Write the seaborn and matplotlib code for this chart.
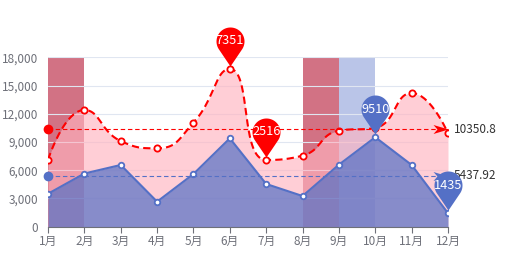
import numpy as np
import pandas as pd
import matplotlib
matplotlib.use("Agg")
import matplotlib.pyplot as plt
import seaborn as sns
from matplotlib.path import Path

# ---------------- data ----------------
months = ['1月', '2月', '3月', '4月', '5月', '6月', '7月', '8月', '9月', '10月', '11月', '12月']
red_vals = [7100, 12400, 9100, 8330, 11050, 16760, 7090, 7550, 10200, 10500, 14200, 9930]
blue_vals = [3500, 5650, 6560, 2660, 5600, 9390, 4540, 3260, 6590, 9510, 6560, 1435]
red_pin_labels = ['7351', '2516']      # max, min pins
blue_pin_labels = ['9510', '1435']     # max, min pins
red_bands = [(0, 1), (7, 8)]
blue_bands = [(8, 9)]
y_ticks = [0, 3000, 6000, 9000, 12000, 15000, 18000]

RED = '#ff0000'
BLUE = '#5470c6'
GRAY = '#6e7079'

sns.set_theme(style='white')
plt.rcParams['font.family'] = ['Noto Sans CJK SC', 'DejaVu Sans']

W, H, DPI = 517, 254, 100
fig = plt.figure(figsize=(W / DPI, H / DPI), dpi=DPI)
ax_l, ax_r, ax_t, ax_b = 48, 448, 57.3, 226.7
ax = fig.add_axes([ax_l / W, (H - ax_b) / H, (ax_r - ax_l) / W, (ax_b - ax_t) / H])
x = np.arange(len(months))
ax.set_xlim(0, len(months) - 1)
ax.set_ylim(0, 18000)

px_x = (ax_r - ax_l) / (len(months) - 1)
px_y = (ax_b - ax_t) / 18000.0


def smooth_curve(xs, ys, smooth=0.5, steps=40):
    X = np.asarray(xs, float) * px_x
    Y = np.asarray(ys, float) * px_y
    n = len(X)
    ox, oy = [X[0]], [Y[0]]
    cp0 = (X[0], Y[0])
    for i in range(1, n):
        cx, cy = X[i], Y[i]
        pxv, pyv = X[i - 1], Y[i - 1]
        if i == n - 1:
            cp1 = (cx, cy)
            ncp0 = None
        else:
            nx, ny = X[i + 1], Y[i + 1]
            vx, vy = nx - pxv, ny - pyv
            l0 = np.hypot(cx - pxv, cy - pyv)
            l1 = np.hypot(nx - cx, ny - cy)
            r = l1 / (l0 + l1)
            ncx = cx + vx * smooth * r
            ncy = cy + vy * smooth * r
            ncx = max(min(ncx, max(nx, cx)), min(nx, cx))
            ncy = max(min(ncy, max(ny, cy)), min(ny, cy))
            vx, vy = ncx - cx, ncy - cy
            c1x = cx - vx * l0 / l1
            c1y = cy - vy * l0 / l1
            c1x = max(min(c1x, max(pxv, cx)), min(pxv, cx))
            c1y = max(min(c1y, max(pyv, cy)), min(pyv, cy))
            vx, vy = cx - c1x, cy - c1y
            ncx = cx + vx * l1 / l0
            ncy = cy + vy * l1 / l0
            cp1 = (c1x, c1y)
            ncp0 = (ncx, ncy)
        t = np.linspace(0, 1, steps)[1:]
        bx = (1 - t) ** 3 * pxv + 3 * (1 - t) ** 2 * t * cp0[0] + 3 * (1 - t) * t ** 2 * cp1[0] + t ** 3 * cx
        by = (1 - t) ** 3 * pyv + 3 * (1 - t) ** 2 * t * cp0[1] + 3 * (1 - t) * t ** 2 * cp1[1] + t ** 3 * cy
        ox.extend(bx)
        oy.extend(by)
        cp0 = ncp0
    return np.array(ox) / px_x, np.array(oy) / px_y


# grid
ax.set_yticks(y_ticks)
ax.set_yticklabels([f'{v:,}' for v in y_ticks])
ax.yaxis.grid(True, color='#e0e6f1', lw=0.8, zorder=0.5)
ax.set_axisbelow(True)

# mark areas (behind everything)
for a, b in red_bands:
    ax.axvspan(a, b, color=(180 / 255, 20 / 255, 50 / 255), alpha=0.6, lw=0, zorder=0.1)
for a, b in blue_bands:
    ax.axvspan(a, b, color=BLUE, alpha=0.4, lw=0, zorder=0.1)

# red smooth series area
sx, sy = smooth_curve(x, red_vals)
ax.fill_between(sx, 0, sy, color=(1.0, 180 / 255, 192 / 255), alpha=0.65, lw=0, zorder=1)
# blue series area
ax.fill_between(x, 0, blue_vals, color=BLUE, alpha=0.7, lw=0, zorder=2)

# lines
ax.plot(sx, sy, color=RED, lw=1.5, dashes=(3.5, 2), zorder=5)
df_blue = pd.DataFrame({'x': x, 'v': blue_vals})
sns.lineplot(data=df_blue, x='x', y='v', ax=ax, color=BLUE, lw=1.5, zorder=5)
ax.plot(x, red_vals, ls='none', marker='o', ms=4.5, mfc='white', mec=RED, mew=1.3, zorder=6)
ax.plot(x, blue_vals, ls='none', marker='o', ms=4, mfc='white', mec=BLUE, mew=1.3, zorder=6)

# mean lines
arrow = Path([(0, 0), (-15, 4.5), (-11, 0), (-15, -4.5), (0, 0)],
             [Path.MOVETO, Path.LINETO, Path.LINETO, Path.LINETO, Path.CLOSEPOLY])
for vals, col in ((red_vals, RED), (blue_vals, BLUE)):
    m = float(np.mean(vals))
    ax.plot([0, len(months) - 1], [m, m], color=col, lw=0.8, dashes=(4, 2.5), zorder=7, clip_on=False)
    ax.plot([0], [m], marker='o', ms=6, color=col, mec=col, zorder=8, clip_on=False)
    ax.plot([len(months) - 1], [m], marker=arrow, ms=2 * 15 * 0.72, color=col, mec=col, mew=0,
            zorder=8, clip_on=False)
    ax.annotate(f'{round(m, 2):g}', (len(months) - 1, m), xytext=(4, 0), textcoords='offset points',
                ha='left', va='center', fontsize=8.5, color='#333333', zorder=9, annotation_clip=False)

# pins
r, c_off, tip = 14.0, 28.0, 3.0
d = c_off - tip
alpha = np.degrees(np.arccos(r / d))
ang = np.radians(np.linspace(-(90 - alpha), 180 + (90 - alpha), 60))
pverts = [(r * np.cos(a), c_off + r * np.sin(a)) for a in ang] + [(0, tip), (r * np.cos(ang[0]), c_off + r * np.sin(ang[0]))]
pin = Path(pverts)
maxabs = max(max(abs(vx), abs(vy)) for vx, vy in pverts)
pin_ms = 2 * maxabs * 0.72

pins = [
    (int(np.argmax(red_vals)), red_vals, red_pin_labels[0], RED),
    (int(np.argmin(red_vals)), red_vals, red_pin_labels[1], RED),
    (int(np.argmax(blue_vals)), blue_vals, blue_pin_labels[0], BLUE),
    (int(np.argmin(blue_vals)), blue_vals, blue_pin_labels[1], BLUE),
]
for i, vals, lab, col in pins:
    ax.plot([i], [vals[i]], marker=pin, ms=pin_ms, color=col, mec=col, mew=0, zorder=10, clip_on=False)
    ax.annotate(lab, (i, vals[i]), xytext=(0, c_off * 0.72), textcoords='offset points',
                ha='center', va='center', fontsize=9.2, color='white', zorder=11, annotation_clip=False)

# axes styling
ax.set_xticks(x)
ax.set_xticklabels(months)
for s in ('left', 'top', 'right'):
    ax.spines[s].set_visible(False)
ax.spines['bottom'].set_color(GRAY)
ax.spines['bottom'].set_linewidth(0.8)
ax.tick_params(axis='x', length=4, width=0.8, color=GRAY, labelcolor=GRAY, labelsize=8.5, pad=2, bottom=True)
ax.tick_params(axis='y', length=0, labelcolor=GRAY, labelsize=8.5, pad=7)
ax.set_xlabel('')
ax.set_ylabel('')

fig.savefig('out.png', dpi=DPI)
